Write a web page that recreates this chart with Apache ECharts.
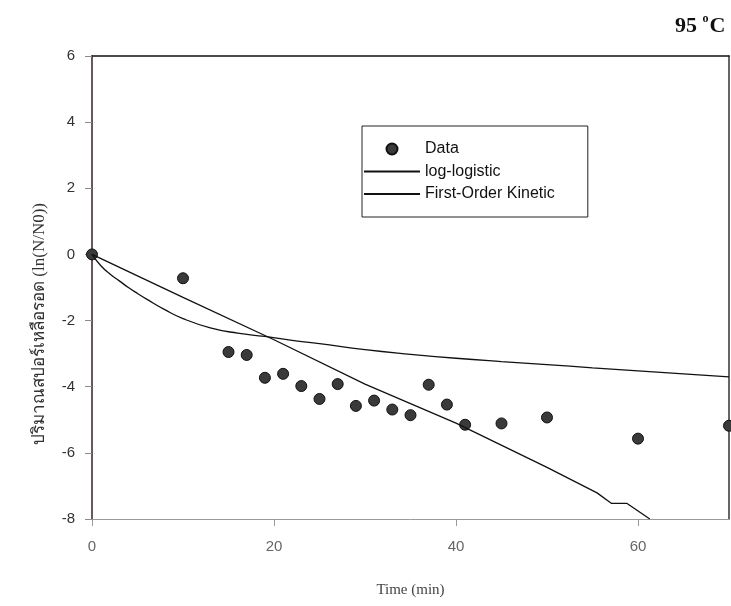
<!DOCTYPE html>
<html>
<head>
<meta charset="utf-8">
<script src="https://cdn.jsdelivr.net/npm/echarts@6/dist/echarts.min.js"></script>
<style>
  html, body { margin: 0; padding: 0; background: #fff; }
  #chart { width: 731px; height: 606px; }
</style>
</head>
<body>
<div id="chart"></div>
<script>
// measured points (time in min, ln(N/N0))
var dataTime = [0, 10, 15, 17, 19, 21, 23, 25, 27, 29, 31, 33, 35, 37, 39, 41, 45, 50, 60, 70];
var dataLnN = [0, -0.72, -2.95, -3.04, -3.73, -3.61, -3.98, -4.37, -3.92, -4.58, -4.42, -4.69, -4.86, -3.94, -4.54, -5.15, -5.11, -4.93, -5.57, -5.18];

// log-logistic curve
var logTime = [0, 1, 2, 3, 4, 5, 6, 8, 10, 13, 16, 19, 22, 25, 30, 35, 40, 45, 50, 55, 60, 65, 70];
var logLnN = [0, -0.35, -0.6, -0.8, -1.0, -1.18, -1.35, -1.67, -1.94, -2.22, -2.38, -2.48, -2.6, -2.7, -2.88, -3.02, -3.14, -3.24, -3.33, -3.43, -3.52, -3.61, -3.7];

// first-order kinetic line
var firstTime = [0, 10, 20, 30, 40, 50, 55.5, 57.1, 58.8, 61.3];
var firstLnN = [0, -1.3, -2.58, -3.92, -5.1, -6.44, -7.21, -7.53, -7.53, -8.0];

var xTicks = [0, 20, 40, 60];

function pairs(xs, ys) {
  var out = [];
  xs.forEach(function (x, i) {
    out.push([x, ys[i]]);
  });
  return out;
}

var dom = document.getElementById("chart");
var myChart = echarts.init(dom, null, { renderer: "canvas" });

// no symbol in the legend for the two curves
var noDot = { color: "rgba(0,0,0,0)", borderColor: "rgba(0,0,0,0)", borderWidth: 0 };

var option = {
  animation: false,
  backgroundColor: "#fff",
  title: {
    text: "{n|95 }{s|o}{n|C}",
    left: 670,
    top: 8,
    textStyle: {
      rich: {
        n: { fontFamily: "Liberation Serif", fontSize: 22, fontWeight: "bold", color: "#111" },
        s: { fontFamily: "Liberation Serif", fontSize: 12, fontWeight: "bold", color: "#111", verticalAlign: "top", padding: [0, 1, 14, 0] },
      },
    },
  },
  legend: {
    orient: "vertical",
    left: 362,
    top: 126,
    data: [
      { name: "Data" },
      { name: "log-logistic", itemStyle: noDot },
      { name: "First-Order Kinetic", itemStyle: noDot },
    ],
    itemWidth: 56,
    itemHeight: 11,
    itemGap: 6.5,
    padding: [15, 33, 15, 1],
    borderColor: "#222",
    borderWidth: 1,
    textStyle: { fontFamily: "Liberation Sans", fontSize: 16, color: "#111", lineHeight: 16 },
  },
  graphic: [
    {
      type: "text",
      left: 31,
      top: 203,
      rotation: Math.PI / 2,
      style: {
        text: "ปริมาณสปอร์เหลือรอด (ln(N/N0))",
        fontFamily: "serif",
        fontSize: 17,
        fill: "#333",
      },
    },
  ],
  grid: {
    left: 92,
    right: 2,
    top: 56,
    bottom: 87,
  },
  xAxis: [
    {
      type: "value",
      min: 0,
      max: 70,
      interval: 20,
      name: "Time (min)",
      nameLocation: "middle",
      nameGap: 64,
      nameTextStyle: { fontFamily: "Liberation Serif", fontSize: 15, color: "#444" },
      axisLine: { onZero: false, lineStyle: { color: "#9a9a9a", width: 1 } },
      axisTick: { customValues: xTicks, length: 7, lineStyle: { color: "#9a9a9a" } },
      axisLabel: { customValues: xTicks, margin: 20, fontFamily: "Liberation Sans", fontSize: 15, color: "#666" },
      splitLine: { show: false },
    },
    {
      type: "value",
      position: "top",
      min: 0,
      max: 70,
      axisLine: { show: true, onZero: false, lineStyle: { color: "#111", width: 1.5 } },
      axisTick: { show: false },
      axisLabel: { show: false },
      splitLine: { show: false },
    },
  ],
  yAxis: [
    {
      type: "value",
      min: -8,
      max: 6,
      interval: 2,
      axisLine: { show: true, onZero: false, lineStyle: { color: "#3b1d24", width: 1.5 } },
      axisTick: { show: true, length: 7, lineStyle: { color: "#8a8a8a" } },
      axisLabel: { margin: 17, fontFamily: "Liberation Sans", fontSize: 15, color: "#333" },
      splitLine: { show: false },
    },
    {
      type: "value",
      position: "right",
      min: -8,
      max: 6,
      axisLine: { show: true, onZero: false, lineStyle: { color: "#333", width: 1.5 } },
      axisTick: { show: false },
      axisLabel: { show: false },
      splitLine: { show: false },
    },
  ],
  series: [
    {
      name: "Data",
      type: "scatter",
      symbol: "circle",
      symbolSize: 11,
      itemStyle: { color: "#3a3a3a", borderColor: "#111", borderWidth: 1, opacity: 1 },
      data: pairs(dataTime, dataLnN),
      z: 3,
    },
    {
      name: "log-logistic",
      type: "line",
      symbol: "none",
      smooth: true,
      color: "#111",
      lineStyle: { color: "#111", width: 1.3 },
      data: pairs(logTime, logLnN),
      z: 4,
    },
    {
      name: "First-Order Kinetic",
      type: "line",
      symbol: "none",
      color: "#111",
      lineStyle: { color: "#111", width: 1.3 },
      data: pairs(firstTime, firstLnN),
      z: 4,
    },
  ],
};

if (option && typeof option === "object") {
  myChart.setOption(option);
}

window.addEventListener("resize", myChart.resize);
</script>
</body>
</html>
